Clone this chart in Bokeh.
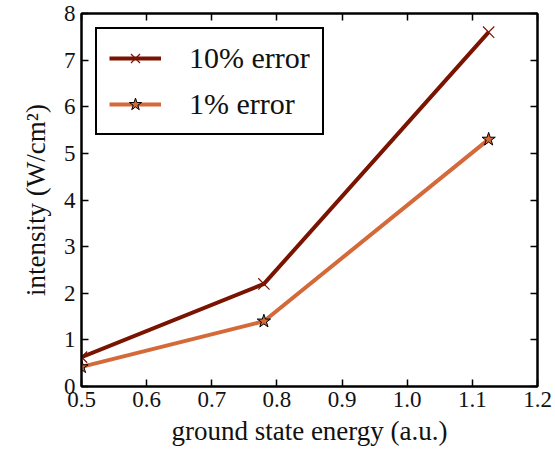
from bokeh.plotting import figure
from bokeh.models import LinearAxis, Range1d, Legend, LegendItem, FixedTicker
from bokeh.embed import file_html
from bokeh.resources import INLINE

energy = [0.5, 0.78, 1.125]
err10 = [0.63, 2.2, 7.6]
err1 = [0.42, 1.4, 5.3]
xticks = [0.5, 0.6, 0.7, 0.8, 0.9, 1.0, 1.1, 1.2]
yticks = [0, 1, 2, 3, 4, 5, 6, 7, 8]

FONT = "'Liberation Serif', 'DejaVu Serif', serif"
C10 = "#7a1300"
C1 = "#d4693a"
TXT = "#111111"

p = figure(width=555, height=458, output_backend="svg", toolbar_location=None,
           x_range=Range1d(0.5, 1.2), y_range=Range1d(0, 8),
           min_border_left=81, min_border_right=18, min_border_top=13, min_border_bottom=72)
p.xgrid.visible = False
p.ygrid.visible = False
p.outline_line_color = "black"
p.outline_line_width = 2
p.background_fill_color = "white"
p.border_fill_color = "white"

def style(ax, labels=True):
    ax.axis_line_width = 2
    ax.axis_line_color = "black"
    ax.major_tick_in = 7
    ax.major_tick_out = 0
    ax.major_tick_line_width = 1.5
    ax.minor_tick_line_color = None
    ax.major_label_text_font = FONT
    ax.major_label_text_font_size = "23px"
    ax.major_label_text_color = TXT
    ax.axis_label_text_font = FONT
    ax.axis_label_text_font_size = "27px"
    ax.axis_label_text_font_style = "normal"
    ax.axis_label_text_color = TXT
    if not labels:
        ax.major_label_text_alpha = 0
        ax.major_label_text_font_size = "1px"

p.xaxis.ticker = FixedTicker(ticks=xticks)
p.yaxis.ticker = FixedTicker(ticks=yticks)
p.xaxis.axis_label = "ground state energy (a.u.)"
p.yaxis.axis_label = "intensity (W/cm²)"
p.xaxis.major_label_overrides = {t: f"{t:.1f}" for t in xticks}
style(p.xaxis[0])
style(p.yaxis[0])
p.xaxis.major_label_standoff = 5
p.yaxis.major_label_standoff = 6
p.xaxis.axis_label_standoff = 6
p.yaxis.axis_label_standoff = 10

top = LinearAxis(ticker=FixedTicker(ticks=xticks))
style(top, labels=False)
p.add_layout(top, "above")
right = LinearAxis(ticker=FixedTicker(ticks=yticks))
style(right, labels=False)
p.add_layout(right, "right")
p.min_border_top = 13
p.min_border_right = 18

l10 = p.line(energy, err10, line_color=C10, line_width=4)
m10 = p.scatter(energy, err10, marker="x", size=16, line_color=C10, line_width=1.2)
l1 = p.line(energy, err1, line_color=C1, line_width=4)
m1 = p.scatter(energy, err1, marker="star", size=14, fill_color=C1, line_color="black", line_width=1)

legend = Legend(items=[LegendItem(label="10% error", renderers=[l10, m10]),
                       LegendItem(label="1% error", renderers=[l1, m1])],
                location="top_left")
legend.label_text_font = FONT
legend.label_text_font_size = "30px"
legend.label_text_color = TXT
legend.border_line_color = "black"
legend.border_line_alpha = 1.0
legend.border_line_width = 2
legend.glyph_width = 52
legend.glyph_height = 32
legend.label_height = 32
legend.spacing = 12
legend.padding = 12
legend.margin = 14
legend.label_standoff = 28
p.add_layout(legend)

open("out.html", "w").write(file_html(p, INLINE))
